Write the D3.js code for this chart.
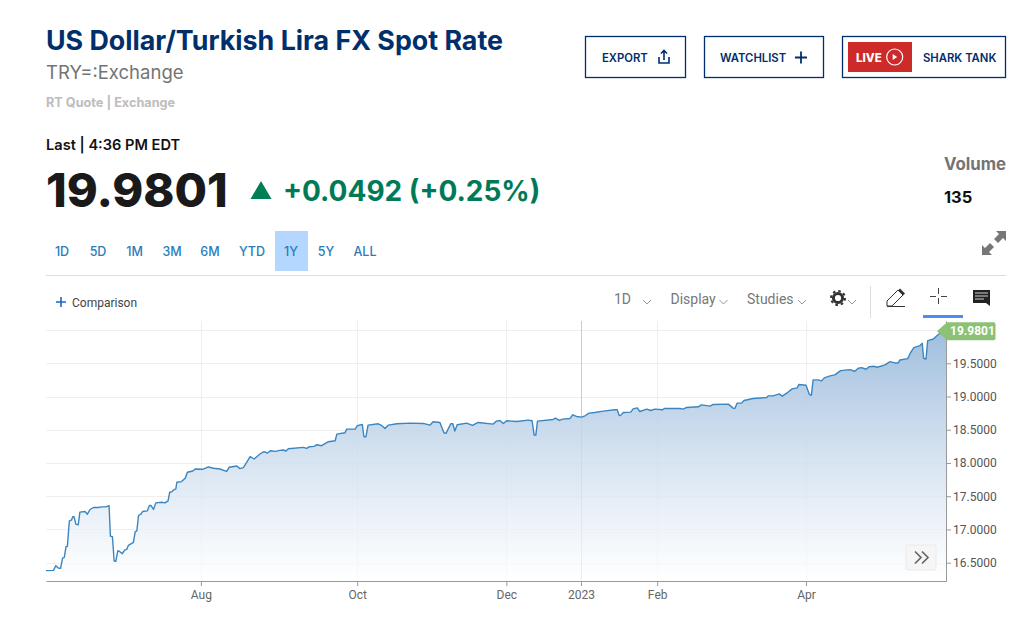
<!DOCTYPE html>
<html>
<head>
<meta charset="utf-8">
<script src="https://cdn.jsdelivr.net/npm/d3@7"></script>
<style>
    html, body { margin: 0; padding: 0; background: #fff; }
    svg { display: block; }
    text { font-family: Inter, "Noto Sans", sans-serif; }
    .chart-text { font-family: Roboto, sans-serif; }
</style>
</head>
<body>
<svg id="graph" width="1031" height="638"></svg>
<script>
// sessions since the first bar
const sessions = [0,2.2,2.9,3.6,4.3,4.9,5.4,5.9,6.3,6.9,7.5,7.9,8.3,8.8,9.5,10,11.5,12.2,13,14,15.4,16.4,17.7,18.6,19,19.6,20.1,20.6,21.2,21.8,22.5,23.2,23.8,24.3,25.3,25.8,26.3,26.8,27.3,28,28.5,29.9,30.5,31,31.7,32.4,34.1,35.1,36,36.5,37.2,37.8,38.3,38.6,40,41.1,41.7,43.3,44,46.2,47.9,49.4,51.3,53.3,54,56.3,57.2,58.2,59.2,60.2,61.4,63.1,64.3,65.3,66.3,67.6,69,70,70.8,71.5,75.9,76.9,77.7,79.1,79.9,81.3,83.3,85.3,85.8,88.2,88.7,91.2,91.8,93.3,93.8,94.4,95,98,99,100,101,103.5,107.4,111.3,113.3,114.2,116.2,117.4,118,119.4,120,120.6,121.3,124.1,125.8,127.5,131.9,132.9,133.9,134.9,135.9,138.8,142.3,143.4,144,144.5,145,149.6,150.3,151.4,152.4,154.6,155.4,156.5,158,159,160.2,161.9,164.4,167.8,168.5,169.1,169.6,170.3,172.5,173.2,174.4,175.2,177.2,178.4,179.6,181.9,182.4,187,188,189,192.4,193.4,195.9,196.8,201.3,202.7,203.2,203.9,205.2,205.9,208.6,212.6,213.1,214.5,216.3,217.2,218.5,220.1,221.6,222.1,224.2,225.2,225.8,226.3,227.8,228.8,229.6,231.3,232.7,234.4,237.2,238.6,239.6,240.6,241.9,242.9,244.2,245.2,247.5,249,250.4,251.4,251.9,254.2,255.1,256,257.8,258.5,258.9,259.6,260.1,261.8,262.8,264.3,265.5];
const rates = [16.38,16.385,16.455,16.42,16.415,16.57,16.58,16.74,16.745,17.13,17.14,17.19,17.19,17.08,17.07,17.26,17.27,17.23,17.30,17.33,17.33,17.34,17.34,17.36,16.90,16.89,16.525,16.52,16.68,16.665,16.635,16.69,16.70,16.76,16.79,16.81,16.965,16.98,17.21,17.23,17.27,17.28,17.36,17.36,17.30,17.40,17.41,17.40,17.43,17.56,17.57,17.60,17.61,17.71,17.72,17.775,17.86,17.88,17.91,17.905,17.94,17.92,17.91,17.875,17.935,17.955,17.915,17.93,18.01,18.095,18.06,18.135,18.17,18.15,18.185,18.175,18.19,18.195,18.18,18.215,18.235,18.22,18.245,18.25,18.275,18.26,18.32,18.335,18.435,18.455,18.51,18.51,18.56,18.58,18.395,18.395,18.57,18.59,18.565,18.52,18.57,18.59,18.60,18.595,18.57,18.62,18.61,18.455,18.445,18.59,18.59,18.48,18.575,18.60,18.565,18.61,18.585,18.63,18.64,18.595,18.635,18.625,18.645,18.635,18.42,18.42,18.63,18.655,18.675,18.64,18.66,18.67,18.725,18.70,18.69,18.71,18.75,18.76,18.78,18.80,18.80,18.715,18.72,18.76,18.765,18.815,18.83,18.775,18.81,18.79,18.81,18.80,18.82,18.82,18.81,18.835,18.845,18.875,18.855,18.88,18.885,18.825,18.82,18.90,18.90,18.94,18.97,18.985,19.01,19.01,19.04,19.005,19.05,19.115,19.13,19.18,19.17,19.03,19.02,19.25,19.25,19.235,19.28,19.31,19.325,19.39,19.405,19.38,19.425,19.435,19.41,19.45,19.455,19.44,19.475,19.525,19.505,19.505,19.55,19.57,19.665,19.735,19.765,19.80,19.575,19.565,19.84,19.865,19.915,19.975,19.9801];

const monthTicks = [45.7, 91.8, 135.8, 157.8, 180.3, 224.2];
const monthLabels = ["Aug", "Oct", "Dec", "2023", "Feb", "Apr"];
const rateTicks = [16.5, 17, 17.5, 18, 18.5, 19, 19.5];
const gridRates = [16.5, 17, 17.5, 18, 18.5, 19, 19.5, 20];
const lastRate = 19.9801;

const rangeLabels = ["1D", "5D", "1M", "3M", "6M", "YTD", "1Y", "5Y", "ALL"];
const rangeCenters = [62, 98, 134.5, 172, 210, 252, 291, 326, 365];

const navy = "#002f6c";
const svg = d3.select("#graph");

function label(g, str, x, y, size, weight, fill, anchor) {
    return g.append("text")
        .attr("x", x).attr("y", y)
        .attr("font-size", size)
        .attr("font-weight", weight)
        .attr("fill", fill)
        .attr("text-anchor", anchor || "start")
        .text(str);
}

function create_header() {
    let g = svg.append("g").attr("class", "header");

    label(g, "US Dollar/Turkish Lira FX Spot Rate", 46, 50, 26.8, 700, navy);
    label(g, "TRY=:Exchange", 46, 79, 18.5, 400, "#747474");
    label(g, "RT Quote | Exchange", 46, 107, 12.7, 700, "#bdbdbd");
    label(g, "Last | 4:36 PM EDT", 46, 150, 14.6, 600, "#111");
    label(g, "19.9801", 46, 207, 47, 800, "#1a1a1a");
    label(g, "+0.0492 (+0.25%)", 283, 201, 28, 700, "#007a56");
    g.append("path").attr("d", "M261,181L271.5,199H250.5Z").attr("fill", "#007f56");

    label(g, "Volume", 944, 170, 16.8, 700, "#747474");
    label(g, "135", 944, 203, 16.5, 700, "#111");

    // buttons
    let box = g.append("g").attr("fill", "none").attr("stroke", navy).attr("stroke-width", 1.3);
    box.append("rect").attr("x", 585.5).attr("y", 36.5).attr("width", 100).attr("height", 41);
    box.append("rect").attr("x", 704.5).attr("y", 36.5).attr("width", 119).attr("height", 41);
    box.append("rect").attr("x", 842.5).attr("y", 36.5).attr("width", 163).attr("height", 41);

    label(g, "EXPORT", 602, 61.5, 11.3, 600, navy);
    g.append("path")
        .attr("d", "M659,57v6h10v-6M664,60v-9M661,53.5l3,-3l3,3")
        .attr("fill", "none").attr("stroke", navy).attr("stroke-width", 1.6);
    label(g, "WATCHLIST", 720, 61.5, 11.3, 600, navy);
    g.append("path").attr("d", "M801,51.5v12M795,57.5h12")
        .attr("stroke", navy).attr("stroke-width", 1.8);
    g.append("rect").attr("x", 848).attr("y", 42).attr("width", 64).attr("height", 30).attr("fill", "#cd2a2a");
    label(g, "LIVE", 856, 61.5, 11.5, 800, "#fff");
    g.append("circle").attr("cx", 894.7).attr("cy", 57).attr("r", 8)
        .attr("fill", "none").attr("stroke", "#fff").attr("stroke-width", 1.2);
    g.append("path").attr("d", "M892.7,54l4.5,3l-4.5,3Z").attr("fill", "#fff");
    label(g, "SHARK TANK", 923, 61.5, 11.3, 600, navy);

    // range selector
    g.append("rect").attr("x", 275).attr("y", 231).attr("width", 33).attr("height", 40).attr("fill", "#b3d7ff");
    g.selectAll("text.range")
        .data(rangeLabels)
        .enter().append("text")
        .attr("class", "range")
        .attr("x", function (d, i) { return rangeCenters[i]; })
        .attr("y", 255.5)
        .attr("text-anchor", "middle")
        .attr("font-size", 12.5)
        .attr("font-weight", 500)
        .attr("fill", "#2a7cba")
        .text(function (d) { return d; });

    g.append("line").attr("x1", 46).attr("x2", 1006).attr("y1", 275.5).attr("y2", 275.5).attr("stroke", "#ddd");

    // expand icon
    g.append("path")
        .attr("d", "M1006,231v10l-3,-3l-5,5l-4,-4l5,-5l-3,-3ZM982,255v-10l3,3l5,-5l4,4l-5,5l3,3Z")
        .attr("fill", "#777");
}

function create_toolbar() {
    let g = svg.append("g").attr("class", "toolbar");

    g.append("path").attr("d", "M61,297v10M56,302h10").attr("stroke", "#1f63c9").attr("stroke-width", 1.6);
    label(g, "Comparison", 72, 307, 12, 400, "#444").attr("class", "chart-text");
    label(g, "1D", 614, 304, 14, 400, "#777").attr("class", "chart-text");
    label(g, "Display", 670.5, 304, 14, 400, "#777").attr("class", "chart-text");
    label(g, "Studies", 747, 304, 14, 400, "#777").attr("class", "chart-text");

    let chevrons = [647, 723.5, 802, 852];
    g.selectAll("path.chev").data(chevrons).enter().append("path")
        .attr("class", "chev")
        .attr("d", function (d) { return "M" + (d - 4) + ",300l4,4l4,-4"; })
        .attr("fill", "none").attr("stroke", "#999");

    // gear
    g.append("circle").attr("cx", 838).attr("cy", 298).attr("r", 4.6)
        .attr("fill", "none").attr("stroke", "#333").attr("stroke-width", 3);
    g.append("circle").attr("cx", 838).attr("cy", 298).attr("r", 7)
        .attr("fill", "none").attr("stroke", "#333").attr("stroke-width", 2).attr("stroke-dasharray", "2.6 2.9");

    g.append("line").attr("x1", 870.5).attr("x2", 870.5).attr("y1", 286).attr("y2", 318).attr("stroke", "#ddd");

    // pencil, crosshair, comment
    g.append("path").attr("d", "M887,306v-5l11,-11l5,5l-11,11ZM887,306.5h18")
        .attr("fill", "none").attr("stroke", "#333").attr("stroke-width", 1);
    g.append("path").attr("d", "M900,288.5l5,5l-2,2l-5,-5Z").attr("fill", "#333");
    g.append("path").attr("d", "M938.5,288v6M938.5,298v6M930,296.5h6M941,296.5h6")
        .attr("stroke", "#444").attr("stroke-width", 1);
    g.append("rect").attr("x", 923).attr("y", 315).attr("width", 40).attr("height", 3).attr("fill", "#4a8ff0");
    g.append("path").attr("d", "M973,290h17v16l-4,-3h-13Z").attr("fill", "#222");
    g.append("path").attr("d", "M975,293h13M975,296h13M975,299h9").attr("stroke", "#fff").attr("stroke-width", 0.8);
}

function create_chart() {
    let x = d3.scaleLinear().domain([0, 265.5]).range([46, 946]);
    let y = d3.scaleLinear().domain([16.22, 20.136]).range([581.3, 321]);

    let defs = svg.append("defs");
    let grad = defs.append("linearGradient")
        .attr("id", "areaFill")
        .attr("gradientUnits", "userSpaceOnUse")
        .attr("x1", 0).attr("x2", 0).attr("y1", y(20)).attr("y2", y(16.22));
    grad.append("stop").attr("offset", "0%").attr("stop-color", "#98b9db").attr("stop-opacity", 0.93);
    grad.append("stop").attr("offset", "100%").attr("stop-color", "#ffffff").attr("stop-opacity", 0.7);

    let g = svg.append("g").attr("class", "chart");

    // grid
    g.append("g").selectAll("line")
        .data(gridRates)
        .enter().append("line")
        .attr("x1", 46).attr("x2", 946)
        .attr("y1", function (d) { return Math.round(y(d)) + 0.5; })
        .attr("y2", function (d) { return Math.round(y(d)) + 0.5; })
        .attr("stroke", "#efefef");

    g.append("g").selectAll("line")
        .data(monthTicks)
        .enter().append("line")
        .attr("x1", function (d) { return Math.round(x(d)) + 0.5; })
        .attr("x2", function (d) { return Math.round(x(d)) + 0.5; })
        .attr("y1", 321).attr("y2", 581)
        .attr("stroke", function (d, i) { return monthLabels[i] === "2023" ? "#ccc" : "#efefef"; });

    let points = sessions.map(function (s, i) { return [s, rates[i]]; });

    let area = d3.area()
        .x(function (d) { return x(d[0]); })
        .y0(y.range()[0])
        .y1(function (d) { return y(d[1]); });

    let line = d3.line()
        .x(function (d) { return x(d[0]); })
        .y(function (d) { return y(d[1]); });

    g.append("path").attr("d", area(points)).attr("fill", "url(#areaFill)");
    g.append("path").attr("d", line(points))
        .attr("fill", "none")
        .attr("stroke", "#3a86c2")
        .attr("stroke-width", 1.4)
        .attr("stroke-linejoin", "round");

    // axes
    let xAxis = d3.axisBottom(x)
        .tickValues(monthTicks)
        .tickSize(5)
        .tickSizeOuter(0)
        .tickFormat(function (d, i) { return monthLabels[i]; });
    let xg = g.append("g").attr("transform", "translate(0,581)").call(xAxis);
    xg.selectAll("path, line").attr("stroke", "#999");
    xg.selectAll("text").attr("class", "chart-text").attr("font-size", 12).attr("fill", "#666").attr("y", 9);

    let yAxis = d3.axisRight(y)
        .tickValues(rateTicks)
        .tickSize(5)
        .tickSizeOuter(0)
        .tickFormat(d3.format(".4f"));
    let yg = g.append("g").attr("transform", "translate(946,0)").call(yAxis);
    yg.selectAll("path, line").attr("stroke", "#999");
    yg.selectAll("text").attr("class", "chart-text").attr("font-size", 12).attr("fill", "#555").attr("x", 7);

    // last price tag
    let tagY = y(lastRate) - 0.2;
    g.append("path")
        .attr("d", "M937," + tagY + "l10,-9h46.5a2,2 0 0 1 2,2v14a2,2 0 0 1 -2,2h-46.5Z")
        .attr("fill", "#8cc176");
    label(g, d3.format(".4f")(lastRate), 950, tagY + 4.3, 12, 700, "#fff").attr("class", "chart-text");

    // scroll button
    g.append("rect").attr("x", 906).attr("y", 545).attr("width", 30).attr("height", 25).attr("rx", 2)
        .attr("fill", "#f6f6f6").attr("stroke", "#eaeaea");
    g.append("path").attr("d", "M915,551.5l6,6l-6,6M922,551.5l6,6l-6,6")
        .attr("fill", "none").attr("stroke", "#666").attr("stroke-width", 1.7);
}

create_header();
create_toolbar();
create_chart();
</script>
</body>
</html>
